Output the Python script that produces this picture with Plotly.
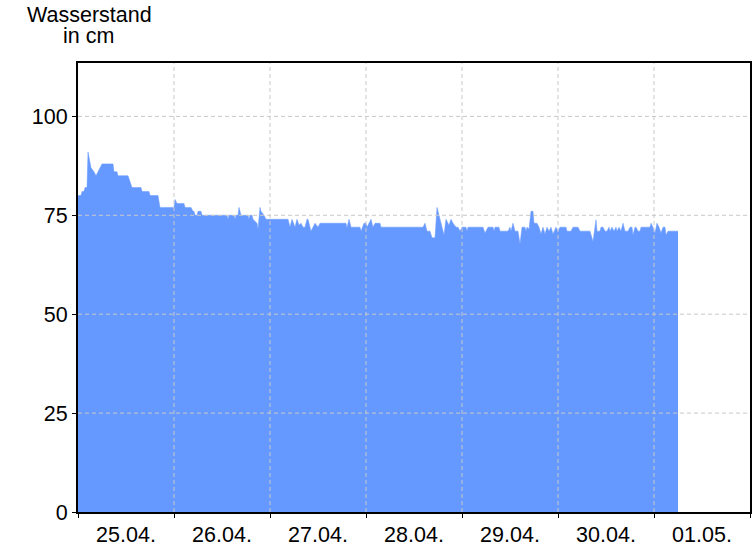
import datetime as dt
import plotly.graph_objects as go

# Hours since 25.04. 00:00 and water level in cm (vertices)
hours = [0, 0.75, 1.0, 1.5, 1.75, 2.25, 2.5, 3.25, 4.0, 4.5, 5.0, 6.0, 8.75, 9.0, 9.75, 10.0,
         12.5, 13.5, 15.75, 16.0, 17.75, 18.0, 20.0, 20.5, 24.0, 24.25, 24.75, 26.5, 26.75,
         28.25, 28.75, 29.0, 29.25, 29.75, 30.0, 30.75, 31.0, 37.25, 37.5, 37.75, 39.0, 39.25,
         39.5, 40.0, 40.25, 40.75, 42.5, 42.75, 43.0, 43.5, 43.75, 44.25, 44.75, 45.0, 45.5,
         45.75, 46.5, 47.0, 52.5, 53.0, 53.5, 54.25, 54.75, 55.25, 55.75, 56.25, 56.75, 57.25,
         57.5, 58.25, 59.25, 60.0, 60.5, 67.0, 67.25, 67.75, 68.25, 70.5, 70.75, 71.5, 72.0,
         72.25, 73.25, 73.75, 74.25, 75.5, 75.75, 86.25, 86.75, 87.25, 88.0, 88.5, 89.25,
         89.75, 90.25, 90.75, 91.5, 92.0, 92.75, 93.25, 93.75, 94.5, 95.0, 95.5, 96.0, 97.0,
         97.25, 97.5, 101.25, 101.75, 102.5, 103.75, 104.0, 104.25, 105.25, 105.5, 107.5,
         108.0, 108.25, 108.75, 109.25, 110.0, 110.5, 111.0, 111.75, 112.0, 112.25, 112.75,
         113.25, 113.75, 114.0, 114.75, 115.25, 115.75, 116.25, 116.75, 117.25, 117.75, 118.25,
         118.75, 119.5, 120.0, 120.5, 122.0, 122.25, 123.25, 123.75, 125.0, 125.5, 128.0,
         128.75, 129.5, 129.75, 130.5, 130.75, 131.25, 131.75, 132.25, 132.75, 133.0, 133.5,
         134.0, 134.5, 134.75, 135.25, 135.75, 136.25, 136.75, 137.5, 138.0, 138.5, 138.75,
         139.25, 139.5, 140.0, 140.5, 140.75, 143.0, 143.25, 143.75, 144.25, 144.75, 145.25,
         145.75, 146.25, 146.75, 147.0, 147.5, 150.0]
level_cm = [80, 80, 81, 81, 82, 82, 91, 87, 86, 85, 86, 88, 88, 86, 86, 85,
            85, 82, 82, 81, 81, 80, 80, 77, 77, 79, 78, 78, 77,
            77, 76, 76, 75, 75, 76, 76, 75, 75, 74, 75, 75, 74,
            75, 75, 77, 75, 75, 74, 75, 75, 74, 73.5, 73, 71.5, 77,
            76, 75, 74, 74, 72, 74, 72, 74, 72.5, 73, 72, 72, 74,
            74, 71, 73, 72, 73, 73, 71.8, 74, 72, 72, 71, 73, 73,
            72, 74, 72, 73, 73, 72, 72, 73, 71, 71, 69.3, 69.3,
            77, 75, 73, 70, 74, 72.5, 74, 73, 72, 72, 71, 72, 72,
            71, 72, 72, 70.5, 72, 72, 71, 72, 72, 71, 71,
            72, 71, 73, 71, 71, 67.8, 72, 72, 71, 72, 71.5,
            76, 76, 73, 73, 72, 70.3, 72, 70.3, 72, 71, 72,
            70.3, 72, 71, 72, 72, 71, 71, 72, 72, 71, 71,
            68.4, 73.9, 71, 71, 72, 72, 71, 71, 72, 71, 72,
            71, 72, 71, 72, 71, 73, 71, 71, 72, 72, 70,
            72, 72, 71, 71, 72, 72, 73, 72, 70.5, 73, 72,
            70.5, 72, 72, 70, 71, 71]

start = dt.datetime(2024, 4, 25, 0, 0)
range_end = dt.datetime(2024, 5, 2, 0, 0)
day_starts = [dt.datetime(2024, 4, d) for d in (26, 27, 28, 29, 30)] + [dt.datetime(2024, 5, 1)]
y_ticks = [0, 25, 50, 75, 100]
y_grid = [25, 50, 75, 100]

times = [start + dt.timedelta(hours=h) for h in hours]

fig = go.Figure()
fig.add_trace(go.Scatter(
    x=times, y=level_cm, mode="lines", fill="tozeroy",
    fillcolor="#6699ff", line=dict(color="#6699ff", width=0.5),
    hoverinfo="x+y", showlegend=False,
))

grid_style = dict(color="#c8c8c8", width=1, dash="4px,3px")
shapes = []
for d in day_starts:
    shapes.append(dict(type="line", xref="x", yref="paper", x0=d, x1=d, y0=0, y1=1,
                       line=grid_style, layer="above"))
for v in y_grid:
    shapes.append(dict(type="line", xref="paper", yref="y", x0=0, x1=1, y0=v, y1=v,
                       line=grid_style, layer="above"))

font = dict(family="Liberation Sans, Arial, sans-serif", size=21.5, color="black")

fig.update_layout(
    width=756, height=546,
    margin=dict(l=78, r=6, t=63, b=34, autoexpand=False),
    paper_bgcolor="white", plot_bgcolor="white",
    font=font,
    shapes=shapes,
    xaxis=dict(
        type="date", range=[start, range_end],
        dtick=86400000, tick0=start, tickformat="%d.%m.",
        ticklabelmode="period",
        ticks="outside", ticklen=4, tickcolor="black", tickwidth=1,
        ticklabelstandoff=-2,
        showgrid=False, zeroline=False, automargin=False,
        showline=True, mirror=True, linecolor="black", linewidth=2,
        tickfont=font,
    ),
    yaxis=dict(
        range=[0, 113.5], tickvals=y_ticks,
        ticks="outside", ticklen=4, tickcolor="black", tickwidth=1,
        showgrid=False, zeroline=False, automargin=False,
        showline=True, mirror=True, linecolor="black", linewidth=2,
        tickfont=font,
    ),
    annotations=[
        dict(text="Wasserstand", xref="paper", yref="paper",
             x=(89 - 78) / 672, y=1 + (63 - 15) / 449, xanchor="center", yanchor="middle",
             showarrow=False, font=font),
        dict(text="in cm", xref="paper", yref="paper",
             x=(88.5 - 78) / 672, y=1 + (63 - 36) / 449, xanchor="center", yanchor="middle",
             showarrow=False, font=font),
    ],
)

fig.write_html("out.html", config={"displayModeBar": False},
               post_script="document.body.style.margin='0px';")
